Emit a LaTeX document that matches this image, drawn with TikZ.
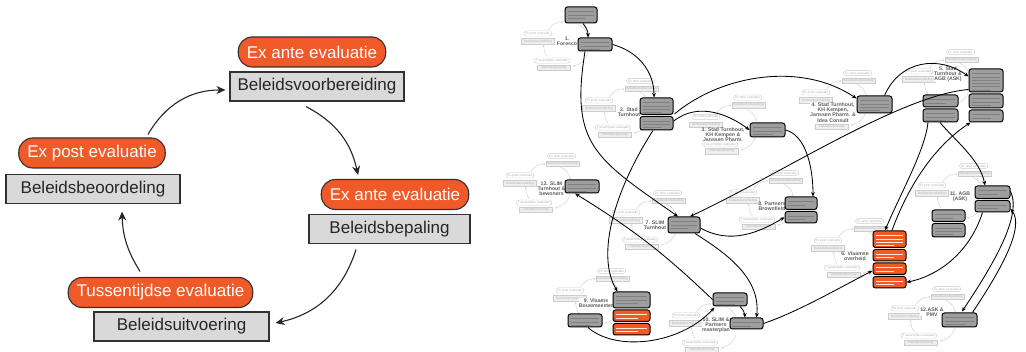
\documentclass[tikz,border=0pt]{standalone}
\usepackage{fontspec}
\setmainfont{Liberation Sans}
\usetikzlibrary{arrows.meta}

\definecolor{evalorange}{RGB}{240,90,40}
\definecolor{phasegray}{RGB}{217,217,217}
\definecolor{edgedark}{RGB}{50,50,50}
\definecolor{actorgray}{RGB}{158,158,158}
\definecolor{ghostline}{RGB}{205,205,205}
\definecolor{ghosttext}{RGB}{180,180,180}
\definecolor{ghostfill}{RGB}{238,238,238}
\definecolor{labelgray}{RGB}{95,95,95}

\tikzset{
  evalpill/.style={draw=edgedark, line width=1.1pt, fill=evalorange, text=white,
    rounded corners=14pt, minimum height=30pt, inner xsep=8.5pt, inner ysep=0pt,
    font=\fontsize{17}{20}\selectfont},
  phasebox/.style={draw=edgedark, line width=1.1pt, fill=phasegray, text=black!85,
    minimum height=29pt, minimum width=174pt, inner sep=0pt,
    font=\fontsize{17}{20}\selectfont},
  cyclearrow/.style={line width=1.1pt, draw=black!85, -{Stealth[length=9pt,width=8pt]}},
  ghostpill/.style={draw=ghostline, line width=0.35pt, fill=white, text=ghosttext,
    rounded corners=2.6pt, minimum height=5.2pt, inner xsep=1.6pt, inner ysep=0pt,
    font=\fontsize{3.25}{3.5}\selectfont},
  ghostbox/.style={draw=ghostline, line width=0.35pt, fill=ghostfill, text=ghosttext,
    minimum height=5.4pt, minimum width=33pt, inner sep=0pt,
    font=\fontsize{3.25}{3.5}\selectfont},
  ghostarrow/.style={line width=0.4pt, draw=ghostline, -{Stealth[length=1.8pt,width=1.6pt]}},
  actorbox/.style={draw=black, line width=1pt, fill=actorgray, rounded corners=2.5pt, inner sep=0pt},
  actororange/.style={actorbox, fill=evalorange},
  rowdark/.style={line width=0.4pt, draw=black!50},
  rowlight/.style={line width=0.4pt, draw=white!85!orange},
  caselabel/.style={text=labelgray, fill=white, align=center, inner sep=0pt,
    font=\fontsize{5.2}{5.2}\selectfont\bfseries},
  link/.style={line width=0.85pt, draw=black, -{Stealth[length=4.5pt,width=3.8pt]}},
}

% small grey policy cycle around a case
% #4 / #5: top / bottom phase shown fully (1), box only (2) or not at all (0)
\newcommand\ghostcycle[5]{%
  \begin{scope}[shift={(#2,#3)}]
    \ifnum#4=1\relax
      \node[ghostpill] (#1-tp) at (13.7,-27) {Ex ante evaluatie};
    \fi
    \ifnum#4>0\relax
      \node[ghostbox]  (#1-tb) at (14.6,-19.6) {Beleidsvoorbereiding};
    \fi
    \node[ghostpill] (#1-lp) at (-28.1,-7.6) {Ex post evaluatie};
    \node[ghostbox]  (#1-lb) at (-28,0.2) {Beleidsbeoordeling};
    \ifnum#5=1\relax
      \node[ghostpill] (#1-bp) at (-14,19.6) {Tussentijdse evaluatie};
    \fi
    \ifnum#5>0\relax
      \node[ghostbox]  (#1-bb) at (-12,26.4) {Beleidsuitvoering};
    \fi
    \coordinate (#1-a1) at (12.5,-16);   \coordinate (#1-a2) at (22.4,-3.5);
    \coordinate (#1-b1) at (22,11.5);    \coordinate (#1-b2) at (7,25);
    \coordinate (#1-c1) at (-19,15.5);   \coordinate (#1-c2) at (-22.4,4);
    \coordinate (#1-d1) at (-17.5,-11);  \coordinate (#1-d2) at (-2.7,-19);
    \draw[ghostarrow] (#1-a1) to[bend left=25] (#1-a2);
    \draw[ghostarrow] (#1-b1) to[bend left=30] (#1-b2);
    \draw[ghostarrow] (#1-c1) to[bend left=15] (#1-c2);
    \draw[ghostarrow] (#1-d1) to[bend left=30] (#1-d2);
  \end{scope}}

% actor box with rows of fine print: #1 style, #2 row style, #3 name, #4..#7 x1 y1 x2 y2
\newcommand\actor[7]{%
  \node[#1, minimum width={#6-#4}, minimum height={#7-#5}] (#3) at ({(#4+#6)/2},{(#5+#7)/2}) {};
  \pgfmathtruncatemacro\nrows{max(1,(#7-#5-3)/3.3)}%
  \foreach \k in {1,...,\nrows}{%
    \draw[#2] ({#4+3},{#5+1.2+3.3*\k}) -- ({#6-3-9*(\k==\nrows)},{#5+1.2+3.3*\k});
  }}

\begin{document}
\begin{tikzpicture}[x=1pt,y=-1pt]
\fill[white] (0,0) rectangle (1026,352);
\path[use as bounding box] (0,0) rectangle (1026,352);

% ---------------- main policy cycle ----------------
\node[evalpill] (pillA) at (312,52) {Ex ante evaluatie};
\node[phasebox] (boxA) at (317,86.5) {Beleidsvoorbereiding};
\node[evalpill] (pillB) at (395,194.5) {Ex ante evaluatie};
\node[phasebox, minimum width=161pt] (boxB) at (389.5,229) {Beleidsbepaling};
\node[evalpill] (pillC) at (160.5,292.5) {Tussentijdse evaluatie};
\node[phasebox, minimum width=175pt] (boxC) at (181.5,326.5) {Beleidsuitvoering};
\node[evalpill] (pillD) at (92,153) {Ex post evaluatie};
\node[phasebox] (boxD) at (93,189) {Beleidsbeoordeling};

\draw[cyclearrow] ([xshift=-11pt,yshift=-5pt]boxA.south) to[bend left=25] ([xshift=-37pt,yshift=4pt]pillB.north);
\draw[cyclearrow] ([xshift=-33.5pt,yshift=-5.5pt]boxB.south) to[bend left=30] ([xshift=6pt,yshift=3.5pt]boxC.east);
\draw[cyclearrow] ([xshift=-20.5pt,yshift=5.5pt]pillC.north) to[bend left=15] ([xshift=29pt,yshift=-7.5pt]boxD.south);
\draw[cyclearrow] ([xshift=56pt,yshift=3pt]pillD.north) to[bend left=30] ([xshift=-4pt,yshift=-3.5pt]boxA.west);

% ---------------- case network ----------------
\ghostcycle{c1}{566}{41}{0}{1}
\ghostcycle{c2}{627}{108}{1}{1}
\ghostcycle{c3}{734}{124.6}{1}{1}
\ghostcycle{c4}{844}{100}{1}{2}
\ghostcycle{c5}{947}{79}{1}{0}
\ghostcycle{c6}{856}{248}{1}{1}
\ghostcycle{c7}{654}{220}{1}{1}
\ghostcycle{c8}{771}{200}{1}{1}
\ghostcycle{c9}{598}{298}{1}{0}
\ghostcycle{c10}{714}{323}{0}{1}
\ghostcycle{c11}{960}{193}{1}{0}
\ghostcycle{c12}{933}{316}{1}{1}
\ghostcycle{c13}{548}{183}{1}{1}

\node[caselabel] (n1) at (567,41) {1.\\Foresco};
\node[caselabel] (n2) at (629,112) {2. Stad\\Turnhout};
\node[caselabel] (n3) at (723,134.7) {3. Stad Turnhout,\\KH Kempen \&\\Janssen Pharm.};
\node[caselabel] (n4) at (833,112.5) {4. Stad Turnhout,\\KH Kempen,\\Janssen Pharm. \&\\Idea Consult};
\node[caselabel] (n5) at (948,74) {5. Stad\\Turnhout \&\\AGB (ASK)};
\node[caselabel] (n6) at (855,256.5) {6. Vlaamse\\overheid};
\node[caselabel] (n7) at (655,225) {7. SLIM\\Turnhout};
\node[caselabel] (n8) at (772,206) {8. Partners\\Brownfield};
\node[caselabel] (n9) at (596,303) {9. Vlaams\\Bouwmeester};
\node[caselabel] (n10) at (716,325) {10. SLIM \&\\Partners\\masterplan};
\node[caselabel] (n11) at (960,197) {11. AGB\\(ASK)};
\node[caselabel] (n12) at (932,312) {12.ASK \&\\PMV};
\node[caselabel] (n13) at (551.5,189) {13. SLIM\\Turnhout \&\\bewoners};

\actor{actorbox}{rowdark}{T1}{565}{7}{597}{23}
\actor{actorbox}{rowdark}{R1}{578}{38}{612}{51}
\actor{actorbox}{rowdark}{R2a}{640}{98}{673}{114.5}
\actor{actorbox}{rowdark}{R2b}{640}{116.5}{673}{130}
\actor{actorbox}{rowdark}{R3}{750}{123}{785}{137}
\actor{actorbox}{rowdark}{R4}{857}{96}{892}{113}
\actor{actorbox}{rowdark}{R5a}{969}{69}{1003}{92}
\actor{actorbox}{rowdark}{R5b}{969}{94}{1003}{108}
\actor{actorbox}{rowdark}{R5c}{969}{110}{1003}{122}
\actor{actorbox}{rowdark}{B5a}{923}{95}{958}{107}
\actor{actorbox}{rowdark}{B5b}{923}{109}{958}{122}
\actor{actororange}{rowlight}{O6a}{873}{231}{906}{247.5}
\actor{actororange}{rowlight}{O6b}{873}{249.5}{906}{261}
\actor{actororange}{rowlight}{O6c}{873}{263}{906}{274.5}
\actor{actororange}{rowlight}{O6d}{873}{276.5}{906}{288}
\actor{actorbox}{rowdark}{R7}{668}{217}{700}{233}
\actor{actorbox}{rowdark}{R8a}{785}{197}{817}{209.5}
\actor{actorbox}{rowdark}{R8b}{785}{211.5}{817}{223}
\actor{actorbox}{rowdark}{R9}{613}{292}{650}{308}
\actor{actororange}{rowlight}{O9a}{613}{310}{650}{321.5}
\actor{actororange}{rowlight}{O9b}{613}{323.5}{650}{335}
\actor{actorbox}{rowdark}{B9}{568}{314}{602}{327}
\actor{actorbox}{rowdark}{T10}{713}{293}{747}{306}
\actor{actorbox}{rowdark}{R10}{730}{318}{763}{329}
\actor{actorbox}{rowdark}{R11a}{975}{186}{1010}{198.5}
\actor{actorbox}{rowdark}{R11b}{975}{200.5}{1010}{212}
\actor{actorbox}{rowdark}{B11a}{932}{210}{965}{221.5}
\actor{actorbox}{rowdark}{B11b}{932}{223.5}{965}{237}
\actor{actorbox}{rowdark}{R12}{942}{313}{977}{327}
\actor{actorbox}{rowdark}{R13}{565}{180}{599}{193}

% links between the cases
\draw[link] ([xshift=2pt]T1.south) to[bend left=20] ([xshift=-7pt]R1.north);
\draw[link] (R1.east) to[out=-15,in=90] ([xshift=-2.5pt]R2a.north);
\draw[link] ([xshift=-10pt]R1.south) .. controls +(-15,93) and +(-83,-58) .. ([xshift=-6pt]R7.north);
\draw[link] ([xshift=-3.5pt]R2b.south) .. controls +(-38,59) and +(-22,-37) .. ([xshift=-14pt]R9.north);
\draw[link] ([xshift=1pt,yshift=1pt]R2a.south east) .. controls +(45,-38) and +(-57,-38) .. ([yshift=6pt]R4.west);
\draw[link] ([yshift=2pt]R2b.east) .. controls +(25,-20) and +(-20,-15) .. (R3.west);
\draw[link] ([xshift=-8pt]R4.north east) .. controls +(16,-36) and +(-29,-21) .. ([yshift=4pt]R5a.west);
\draw[link] ([yshift=3pt]R5a.south west) .. controls +(-69,6) and +(90,-42) .. ([xshift=6pt]R7.north);
\draw[link] (R3.east) .. controls +(20,5) and +(0,-30) .. ([xshift=12pt]R8a.north);
\draw[link] ([yshift=-3pt]R7.east) .. controls +(30,17) and +(-25,15) .. (R8b.west);
\draw[link] ([xshift=11pt]R7.south) .. controls +(35,22) and +(4,-38) .. ([xshift=10pt]R10.north);
\draw[link] (T10.west) to[bend right=6] ([xshift=-7pt]R13.south);
\draw[link] ([xshift=3pt]B9.south) .. controls +(27,24) and +(-35,38) .. ([xshift=2pt,yshift=-1pt]T10.south west);
\draw[link] ([xshift=10pt]T10.south) to[bend left=20] ([xshift=-1.5pt]R10.north);
\draw[link] (R10.east) .. controls +(35,-12) and +(-35,18) .. ([yshift=-2pt]O6c.west);
\draw[link] ([xshift=-10pt]R11b.south) .. controls +(-12,38) and +(34,-7) .. (O6d.east);
\draw[link] ([xshift=-12.5pt]B5b.south) .. controls +(-3,28) and +(15,-36) .. ([xshift=-4.5pt]O6a.north);
\draw[link] ([xshift=2.5pt]O6a.north) .. controls +(13,-36) and +(-41,27) .. ([xshift=2pt]R5c.south west);
\draw[link] ([xshift=-0.5pt]B5b.south) .. controls +(15,18) and +(-5,-26) .. ([xshift=-7.5pt]R11a.north);
\draw[link] ([yshift=1pt]R11a.east) .. controls +(12,25) and +(30,-45) .. ([xshift=2.5pt,yshift=1pt]R12.north);
\draw[link] ([xshift=-5pt]R12.north east) .. controls +(30,-45) and +(14,18) .. ([yshift=-2.5pt]R11b.east);
\end{tikzpicture}
\end{document}
